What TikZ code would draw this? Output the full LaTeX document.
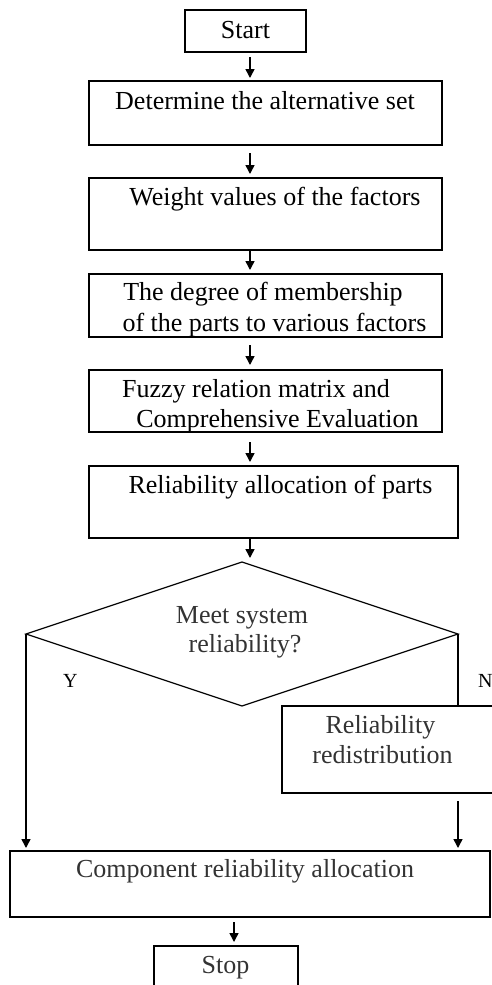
\documentclass[tikz,border=0pt]{standalone}
\usepackage{fontspec}
\setmainfont{Liberation Serif}
\usetikzlibrary{shapes.geometric,arrows.meta}
\begin{document}
\begin{tikzpicture}[x=1pt,y=-1pt,
  box/.style={draw,line width=1.4pt,inner sep=0pt,outer sep=0pt},
  txt/.style={font=\fontsize{26}{30}\selectfont,anchor=base,inner sep=0pt},
  gtxt/.style={txt,text=black!80},
  yn/.style={font=\fontsize{20}{24}\selectfont,anchor=base west,inner sep=0pt},
  arr/.style={line width=1.5pt,-{Triangle[length=9pt,width=9pt]}},
  ln/.style={line width=1.3pt}]
\useasboundingbox (0,0) rectangle (492,985);
% boxes
\node[box,minimum width=121pt,minimum height=42pt] (start) at (245.5,31) {};
\node[box,minimum width=353pt,minimum height=64pt] (b2) at (265.5,113) {};
\node[box,minimum width=353pt,minimum height=72pt] (b3) at (265.5,214) {};
\node[box,minimum width=353pt,minimum height=63pt] (b4) at (265.5,305.5) {};
\node[box,minimum width=353pt,minimum height=62pt] (b5) at (265.5,401) {};
\node[box,minimum width=369pt,minimum height=72pt] (b6) at (273.5,502) {};
\node[diamond,draw,line width=1.2pt,inner sep=0pt,outer sep=0pt,
      minimum width=432pt,minimum height=144pt] (dec) at (242,634) {};
\node[box,minimum width=218pt,minimum height=87pt] (rd) at (391,749.5) {};
\node[box,minimum width=480pt,minimum height=66pt] (comp) at (250,884) {};
\node[box,minimum width=144pt,minimum height=54pt] (stop) at (226,973) {};
% texts
\node[txt] (t1) at (245.5,38) {Start};
\node[txt] (t2) at (265,109) {Determine the alternative set};
\node[txt] (t3) at (275,205) {Weight values of the factors};
\node[txt] (t4a) at (263,300) {The degree of membership};
\node[txt] (t4b) at (274.5,331) {of the parts to various factors};
\node[txt] (t5a) at (256,397) {Fuzzy relation matrix and};
\node[txt] (t5b) at (277.5,427) {Comprehensive Evaluation};
\node[txt] (t6) at (280.5,493) {Reliability allocation of parts};
\node[gtxt] (t7a) at (242,623) {Meet system};
\node[gtxt] (t7b) at (245,652) {reliability?};
\node[yn] (ty) at (63,687) {Y};
\node[yn] (tn) at (478,687) {N};
\node[gtxt] (t8a) at (380.5,733) {Reliability};
\node[gtxt] (t8b) at (382.5,763) {redistribution};
\node[gtxt] (t9) at (245,877) {Component reliability allocation};
\node[gtxt] (t10) at (225.5,973) {Stop};
% connectors
\coordinate (ax) at (250,0);
\coordinate (bx) at (234,0);
\draw[arr,shorten <=5pt,shorten >=3pt] (start.south -| ax) -- (b2.north -| ax);
\draw[arr,shorten <=8pt,shorten >=4pt] (b2.south -| ax) -- (b3.north -| ax);
\draw[arr,shorten <=0pt,shorten >=4pt] (b3.south -| ax) -- (b4.north -| ax);
\draw[arr,shorten <=8pt,shorten >=5pt] (b4.south -| ax) -- (b5.north -| ax);
\draw[arr,shorten <=10pt,shorten >=4pt] (b5.south -| ax) -- (b6.north -| ax);
\draw[arr,shorten <=0pt,shorten >=4pt] (b6.south -| ax) -- (dec.north -| ax);
\draw[arr,shorten >=3pt] (dec.west) -- (dec.west |- comp.north);
\draw[ln] (dec.east) -- (dec.east |- rd.north);
\draw[arr,shorten <=8pt,shorten >=3pt] (rd.south -| dec.east) -- (comp.north -| dec.east);
\draw[arr,shorten <=5pt,shorten >=4pt] (comp.south -| bx) -- (stop.north -| bx);
\end{tikzpicture}
\end{document}
